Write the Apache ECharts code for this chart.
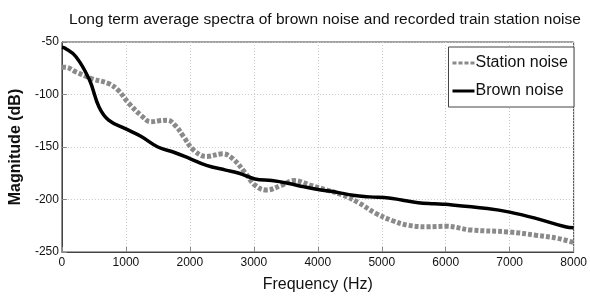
<!DOCTYPE html>
<html>
<head>
<meta charset="utf-8">
<script src="https://cdn.jsdelivr.net/npm/echarts@6/dist/echarts.min.js"></script>
<style>
  html, body { margin: 0; padding: 0; background: #fff; }
  #chart { width: 590px; height: 298px; }
</style>
</head>
<body>
<div id="chart"></div>
<script>
// frequency (Hz) / level (dB) pairs
const stationHz = [0, 50, 220, 470, 730, 880, 1040, 1240, 1390, 1520, 1650, 1780, 1900, 2060, 2260, 2510, 2670, 2870, 3020, 3200, 3430, 3630, 3890, 4140, 4400, 4650, 4900, 5160, 5410, 5720, 6000, 6390, 7000, 7410, 7750, 8000]
const stationDb = [-74, -74, -78.5, -85, -89.6, -96, -108, -120, -126, -125, -124.5, -130, -140, -153, -159, -156.5, -161, -175, -186.5, -191, -186.5, -182, -186.5, -191, -196, -203.5, -213, -220, -224.5, -226, -225.5, -229, -231, -234, -237, -241]

const brownHz = [0, 50, 220, 430, 580, 730, 990, 1240, 1500, 1750, 2000, 2260, 2560, 2770, 3020, 3280, 3530, 3790, 4050, 4290, 4550, 4810, 5110, 5310, 5570, 5820, 6000, 6650, 7000, 7410, 7870, 8000]
const brownDb = [-55, -56, -64, -86, -112, -124.5, -132.5, -140, -150, -155, -161, -167.5, -172, -175, -180.5, -182, -184.5, -188, -191, -193, -196, -197.5, -198.5, -200.5, -203, -204, -204.6, -208.6, -212, -218, -226, -227]

const seriesNames = ['Station noise', 'Brown noise']

const pairs = (xs, ys) => xs.map((x, i) => [x, ys[i]])

const font = '"Liberation Sans", Arial, sans-serif'

const chart = echarts.init(document.getElementById('chart'))

chart.setOption({
  animation: false,
  backgroundColor: '#fff',
  title: {
    text: 'Long term average spectra of brown noise and recorded train station noise',
    left: 320,
    textAlign: 'center',
    top: 7,
    textStyle: { fontFamily: font, fontSize: 15.5, fontWeight: 'normal', color: '#111' }
  },
  legend: {
    data: [
      { name: seriesNames[0], icon: 'path://M0,0h4v3h-4z M6,0h4v3h-4z M12,0h4v3h-4z M18,0h4v3h-4z' },
      { name: seriesNames[1], icon: 'path://M0,0h22v3h-22z' }
    ],
    orient: 'vertical',
    right: 16,
    top: 47,
    itemWidth: 22,
    itemHeight: 4,
    itemGap: 12,
    padding: [8, 6, 8, 4],
    backgroundColor: '#fff',
    borderColor: '#444',
    borderWidth: 1,
    textStyle: { fontFamily: font, fontSize: 16, color: '#111', padding: [0, 0, 0, -4] }
  },
  grid: {
    left: 54,
    right: 15,
    top: 42,
    bottom: 46,
    show: true,
    borderColor: '#444',
    borderWidth: 1
  },
  xAxis: {
    type: 'value',
    min: 0,
    max: 8000,
    interval: 1000,
    name: 'Frequency (Hz)',
    nameLocation: 'middle',
    nameGap: 25,
    nameTextStyle: { fontFamily: font, fontSize: 16, color: '#111' },
    axisLine: { lineStyle: { color: '#444' } },
    axisTick: { inside: true, length: 5, lineStyle: { color: '#888' } },
    axisLabel: { fontFamily: font, fontSize: 12, color: '#111', margin: 5, formatter: (v) => String(v) },
    splitLine: { show: true, lineStyle: { color: '#c8c8c8', type: [1, 2] } }
  },
  yAxis: {
    type: 'value',
    min: -250,
    max: -50,
    interval: 50,
    name: 'Magnitude (dB)',
    nameLocation: 'middle',
    nameGap: 33,
    nameTextStyle: { fontFamily: font, fontSize: 16, fontWeight: 'bold', color: '#111' },
    axisLine: { show: true, lineStyle: { color: '#444' } },
    axisTick: { show: true, inside: true, length: 5, lineStyle: { color: '#888' } },
    axisLabel: { fontFamily: font, fontSize: 12, color: '#111', margin: 3 },
    splitLine: { show: true, lineStyle: { color: '#c8c8c8', type: [1, 2] } }
  },
  series: [
    {
      name: seriesNames[0],
      type: 'line',
      data: pairs(stationHz, stationDb),
      smooth: 0.4,
      showSymbol: false,
      symbol: 'none',
      z: 2,
      itemStyle: { color: '#8a8a8a' },
      lineStyle: { color: '#8a8a8a', width: 5, type: [4, 2] }
    },
    {
      name: seriesNames[1],
      type: 'line',
      data: pairs(brownHz, brownDb),
      smooth: 0.4,
      showSymbol: false,
      symbol: 'none',
      z: 3,
      itemStyle: { color: '#000' },
      lineStyle: { color: '#000', width: 3.5 }
    }
  ]
})
</script>
</body>
</html>
